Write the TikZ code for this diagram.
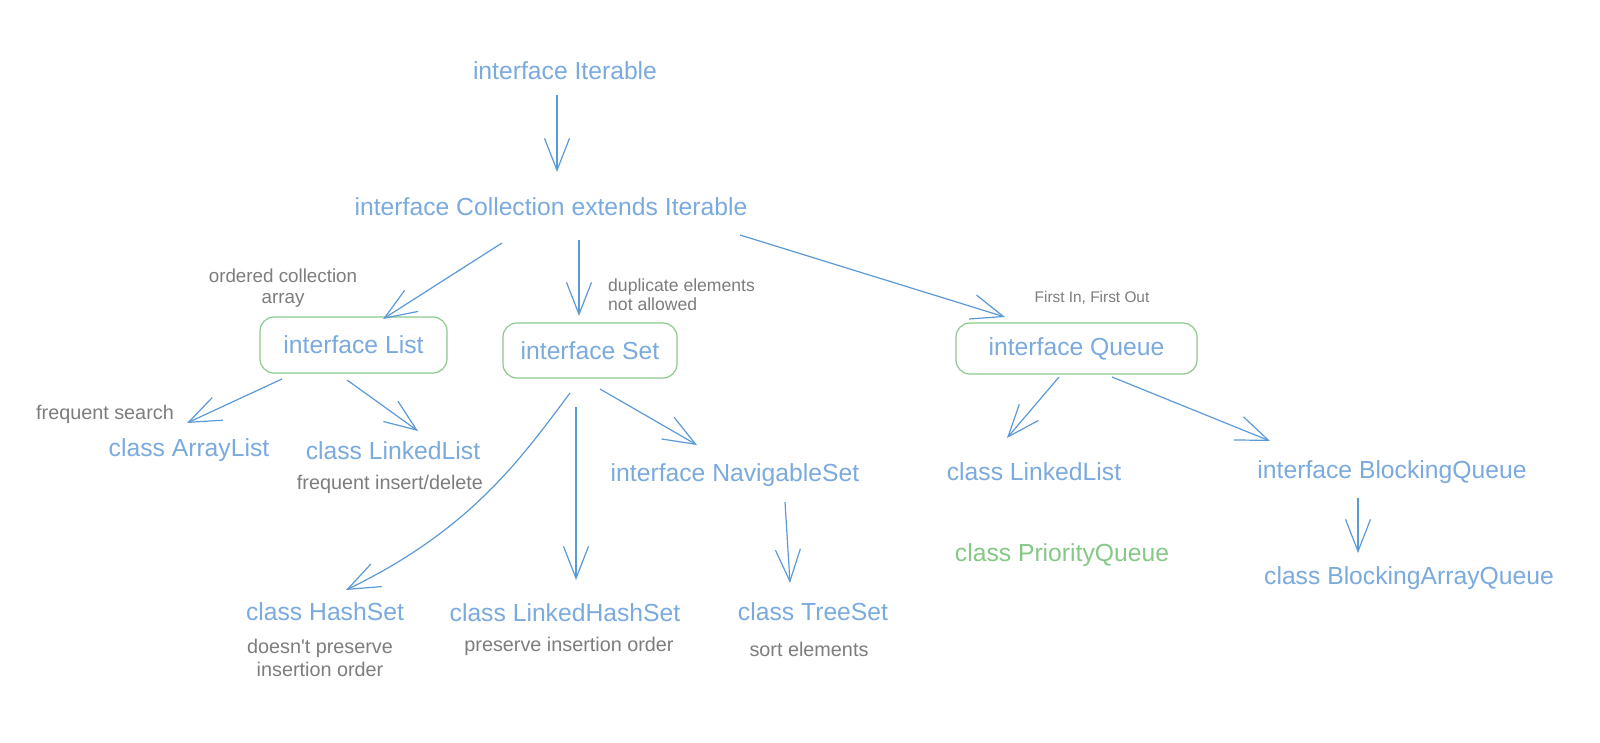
\documentclass[tikz,border=0pt]{standalone}
\usepackage{fontspec}
\setmainfont{Liberation Sans}[Ligatures=TeXOff]
\usetikzlibrary{arrows.meta}
\definecolor{tblue}{RGB}{122,170,222}
\definecolor{ablue}{RGB}{92,153,216}
\definecolor{gbox}{RGB}{140,202,140}
\definecolor{gtext}{RGB}{134,200,134}
\definecolor{grayt}{RGB}{125,125,125}
\begin{document}
\begin{tikzpicture}[x=1pt,y=-1pt,
  bl/.style={text=tblue, font=\fontsize{24.7}{29}\selectfont, inner sep=0pt},
  gn/.style={text=gtext, font=\fontsize{24.7}{29}\selectfont, inner sep=0pt},
  gr/.style={text=grayt, font=\fontsize{19.8}{23}\selectfont, inner sep=0pt, align=center},
  boxed/.style={draw=gbox, line width=1.2pt, rounded corners=14pt, text=tblue,
                font=\fontsize{24.7}{29}\selectfont, inner sep=0pt},
  arr/.style={draw=ablue, line width=1.2pt,
              -{Straight Barb[length=32pt,width=25pt,line width=1.2pt]}},
]
\useasboundingbox[fill=white] (0,0) rectangle (1600,742);

% blue text nodes
\node[bl] (iter) at (565,71) {interface Iterable};
\node[bl] (coll) at (551,207) {interface Collection extends Iterable};
\node[boxed, minimum width=187pt, minimum height=56pt] (list) at (353.5,345) {interface List};
\node[boxed, minimum width=174pt, minimum height=55pt] (set) at (590,350.5) {interface Set\hspace{14pt}};
\node[boxed, minimum width=241pt, minimum height=51pt] (queue) at (1076.5,348.5) {interface Queue};
\node[bl] (alist) at (189,450) {class ArrayList};
\node[bl] (llist) at (393,451) {class LinkedList};
\node[bl] (nav) at (735,475) {interface NavigableSet};
\node[bl] (llist2) at (1034,472) {class LinkedList};
\node[bl] (bq) at (1392,472) {interface BlockingQueue};
\node[gn] (pq) at (1062,555) {class PriorityQueue};
\node[bl] (baq) at (1409,578) {class BlockingArrayQueue};
\node[bl] (hset) at (325,612) {class HashSet};
\node[bl] (lhset) at (565,613) {class LinkedHashSet};
\node[bl] (tset) at (813,612) {class TreeSet};

% gray annotations
\node[gr, font=\fontsize{18.8}{21}\selectfont] (ordered) at (283,288) {ordered collection\\array};
\node[gr, font=\fontsize{17.6}{19}\selectfont, align=left, anchor=west] (dup) at (608,295) {duplicate elements\\not allowed};
\node[gr, font=\fontsize{15.4}{18}\selectfont] (fifo) at (1092,298) {First In, First Out};
\node[gr] (fsearch) at (105,414) {frequent search};
\node[gr] (fid) at (390,484) {frequent insert/delete};
\node[gr] (dnp) at (320,658) {doesn't preserve\\insertion order};
\node[gr] (pio) at (569,646) {preserve insertion order};
\node[gr] (sortel) at (809,649) {sort elements};

% connector end points
\coordinate (iterS) at (557,95);   \coordinate (collN) at (557,172);
\coordinate (collA) at (502,243);  \coordinate (listN) at (383,319);
\coordinate (collB) at (579,240);  \coordinate (setN) at (579,316);
\coordinate (collC) at (740,235);  \coordinate (queueN) at (1005,317);
\coordinate (listA) at (282,379);  \coordinate (alistN) at (187,423);
\coordinate (listB) at (347,380);  \coordinate (llistN) at (418,431);
\coordinate (setA) at (570,393);   \coordinate (hsetN) at (346,590);
\coordinate (setB) at (576,407);   \coordinate (lhsetN) at (576,580);
\coordinate (setC) at (600,389);   \coordinate (navN) at (697,445);
\coordinate (navS) at (785,502);   \coordinate (tsetN) at (790,583);
\coordinate (queueA) at (1059,377); \coordinate (llist2N) at (1007,438);
\coordinate (queueB) at (1112,377); \coordinate (bqN) at (1270,441);
\coordinate (bqS) at (1358,498);   \coordinate (baqN) at (1358,553);

% connectors
\draw[arr] (iterS) -- (collN);
\draw[arr] (collA) -- (listN);
\draw[arr] (collB) -- (setN);
\draw[arr] (collC) -- (queueN);
\draw[arr] (listA) -- (alistN);
\draw[arr] (listB) -- (llistN);
\draw[arr] (setA) .. controls (520,460) and (470,530) .. (hsetN);
\draw[arr] (setB) -- (lhsetN);
\draw[arr] (setC) -- (navN);
\draw[arr] (navS) -- (tsetN);
\draw[arr] (queueA) -- (llist2N);
\draw[arr] (queueB) -- (bqN);
\draw[arr] (bqS) -- (baqN);
\end{tikzpicture}
\end{document}
